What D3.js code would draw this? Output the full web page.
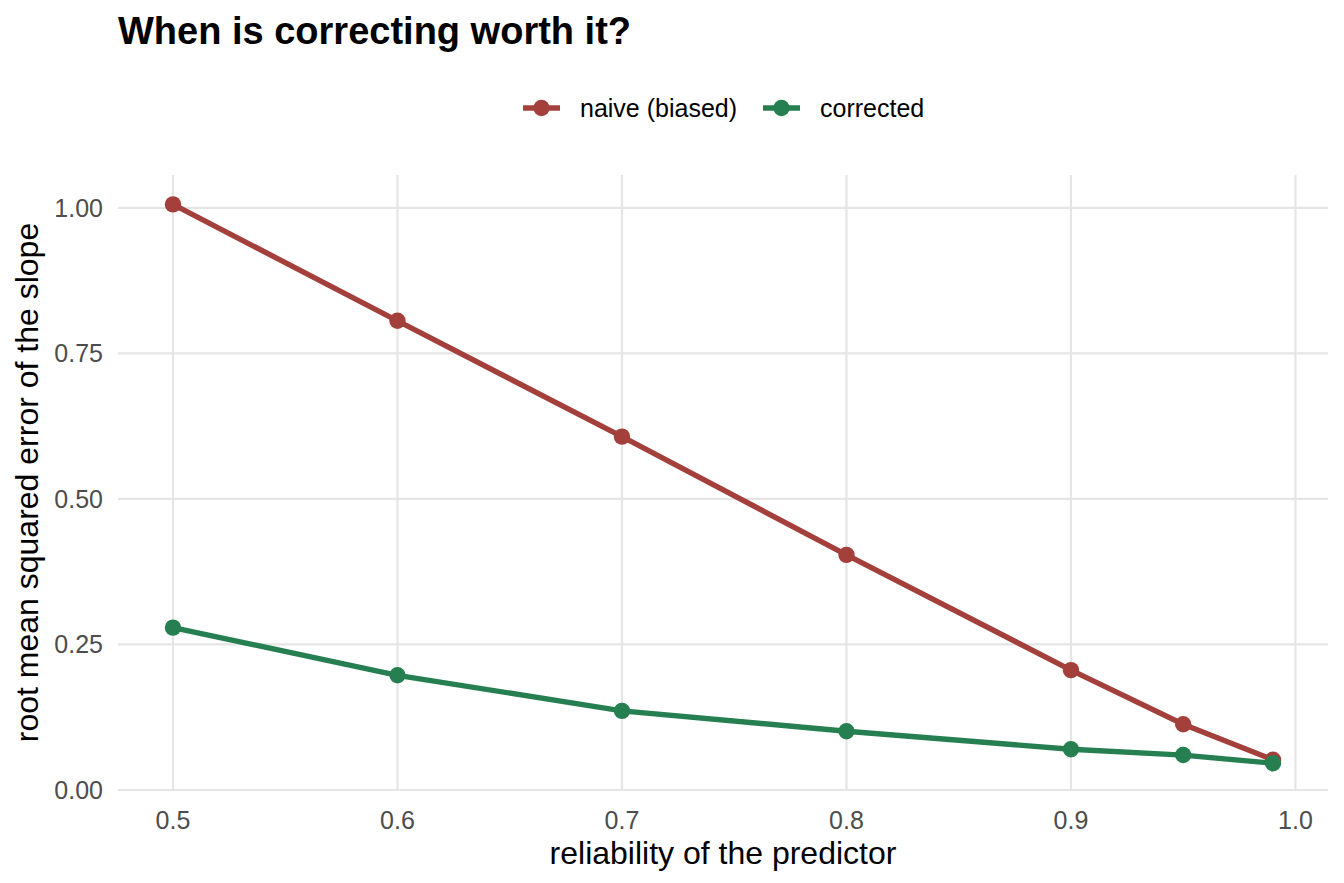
<!DOCTYPE html>
<html>
<head>
<meta charset="utf-8">
<script src="https://cdn.jsdelivr.net/npm/d3@7"></script>
<style>
body{margin:0;background:#fff;font-family:"Liberation Sans",Arial,sans-serif;}
.grid line{stroke:#e5e5e5;stroke-width:2.2;}
</style>
</head>
<body>
<script>
var reliability=[0.5,0.6,0.7,0.8,0.9,0.95,0.99];
var naive=[1.006,0.806,0.607,0.404,0.206,0.113,0.052];
var corrected=[0.279,0.197,0.136,0.101,0.070,0.060,0.046];
var xticks=[0.5,0.6,0.7,0.8,0.9,1.0];
var yticks=[0,0.25,0.5,0.75,1.0];
var seriesNames=["naive (biased)","corrected"];
var colors=["#a4403c","#267f50"];

var width=1344,height=883;
var pLeft=118,pRight=1328,pTop=175,pBottom=790;
var svg=d3.select("body").append("svg").attr("width",width).attr("height",height);

var xscale=d3.scaleLinear().domain([0.4755,1.0145]).range([pLeft,pRight]);
var yscale=d3.scaleLinear().domain([0,1.0565]).range([pBottom,pTop]);

// grid
var g=svg.append("g").attr("class","grid");
g.selectAll(".vx").data(xticks).enter().append("line")
	.attr("x1",d=>xscale(d)).attr("x2",d=>xscale(d)).attr("y1",pTop).attr("y2",pBottom);
g.selectAll(".hy").data(yticks).enter().append("line")
	.attr("x1",pLeft).attr("x2",pRight).attr("y1",d=>yscale(d)).attr("y2",d=>yscale(d));

// tick labels
svg.selectAll(".xt").data(xticks).enter().append("text")
	.attr("x",d=>xscale(d)).attr("y",pBottom+39).attr("text-anchor","middle")
	.attr("font-size",25).attr("fill","#4d4d4d").text(d=>d3.format(".1f")(d));
svg.selectAll(".yt").data(yticks).enter().append("text")
	.attr("x",pLeft-15).attr("y",d=>yscale(d)+9).attr("text-anchor","end")
	.attr("font-size",25).attr("fill","#4d4d4d").text(d=>d3.format(".2f")(d));

// axis titles
svg.append("text").attr("x",(pLeft+pRight)/2).attr("y",864).attr("text-anchor","middle")
	.attr("font-size",32).attr("fill","#000").text("reliability of the predictor");
svg.append("text").attr("transform","translate(38,"+((pTop+pBottom)/2)+") rotate(-90)")
	.attr("text-anchor","middle").attr("font-size",32).attr("fill","#000")
	.text("root mean squared error of the slope");

// title
svg.append("text").attr("x",118).attr("y",44).attr("font-size",38).attr("font-weight","bold")
	.attr("fill","#000").text("When is correcting worth it?");

// lines and points
var series=[naive,corrected];
var line=d3.line().x((d,i)=>xscale(reliability[i])).y(d=>yscale(d));
series.forEach(function(s,k){
	svg.append("path").datum(s).attr("d",line).attr("fill","none")
		.attr("stroke",colors[k]).attr("stroke-width",5.4);
	svg.selectAll(".p"+k).data(s).enter().append("circle")
		.attr("cx",(d,i)=>xscale(reliability[i])).attr("cy",d=>yscale(d))
		.attr("r",8.2).attr("fill",colors[k]);
});

// legend
var legx=[523,763];
seriesNames.forEach(function(n,k){
	var lg=svg.append("g").attr("transform","translate("+legx[k]+",108)");
	lg.append("line").attr("x1",0).attr("x2",37).attr("y1",0).attr("y2",0)
		.attr("stroke",colors[k]).attr("stroke-width",5.4);
	lg.append("circle").attr("cx",18.5).attr("cy",0).attr("r",8.2).attr("fill",colors[k]);
	lg.append("text").attr("x",57).attr("y",9).attr("font-size",25).attr("fill","#000").text(n);
});
</script>
</body>
</html>
